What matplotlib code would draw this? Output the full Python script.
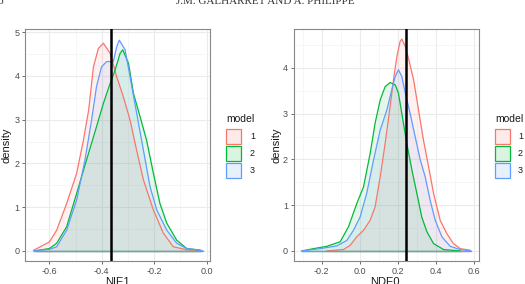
import matplotlib
matplotlib.use('Agg')
import matplotlib.pyplot as plt
from matplotlib.patches import Rectangle
from matplotlib.ticker import MultipleLocator

plt.rcParams['font.family'] = ['Liberation Sans', 'DejaVu Sans']
plt.rcParams['axes.unicode_minus'] = False

MODELS = ["1", "2", "3"]
COLORS = ["#F8766D", "#00BA38", "#619CFF"]

# NIE1 panel, density
nie_x1 = [-0.66, -0.60, -0.572, -0.534, -0.496, -0.47, -0.45, -0.432, -0.413, -0.394, -0.368,
          -0.343, -0.318, -0.292, -0.267, -0.241, -0.203, -0.165, -0.127, -0.076, -0.02]
nie_y1 = [0.01, 0.2, 0.47, 1.08, 1.77, 2.53, 3.22, 4.2, 4.63, 4.75, 4.52,
          3.98, 3.53, 2.99, 2.3, 1.62, 0.93, 0.4, 0.09, 0.02, 0.0]
nie_x2 = [-0.65, -0.60, -0.572, -0.534, -0.496, -0.458, -0.420, -0.394, -0.368, -0.349, -0.330,
          -0.320, -0.298, -0.279, -0.254, -0.229, -0.203, -0.178, -0.152, -0.114, -0.076, -0.025]
nie_y2 = [0.0, 0.05, 0.17, 0.55, 1.31, 2.08, 2.84, 3.37, 3.83, 4.14, 4.52,
          4.6, 4.29, 3.6, 3.07, 2.53, 1.77, 1.08, 0.63, 0.24, 0.05, 0.015]
nie_x3 = [-0.66, -0.60, -0.572, -0.534, -0.496, -0.464, -0.439, -0.420, -0.401, -0.381, -0.356,
          -0.343, -0.333, -0.311, -0.292, -0.267, -0.241, -0.216, -0.190, -0.152, -0.114, -0.076, -0.015]
nie_y3 = [0.0, 0.03, 0.09, 0.47, 1.16, 2.08, 2.99, 3.76, 4.21, 4.33, 4.33,
          4.67, 4.82, 4.6, 3.98, 3.15, 2.3, 1.47, 0.93, 0.47, 0.17, 0.05, 0.0]
nie_ref = -0.365

# NDE0 panel
nde_x1 = [-0.174, -0.086, -0.051, -0.015, 0.020, 0.055, 0.081, 0.108, 0.134, 0.160, 0.178, 0.196, 0.213,
          0.222, 0.240, 0.257, 0.284, 0.310, 0.336, 0.363, 0.389, 0.424, 0.459, 0.494, 0.530, 0.582]
nde_y1 = [0.0, 0.03, 0.12, 0.31, 0.45, 0.67, 0.96, 1.62, 2.35, 3.15, 3.74, 4.25, 4.58,
          4.63, 4.47, 4.21, 3.74, 3.08, 2.42, 1.84, 1.26, 0.67, 0.38, 0.16, 0.05, 0.015]
nde_x2 = [-0.305, -0.244, -0.174, -0.103, -0.059, -0.015, 0.020, 0.055, 0.081, 0.108, 0.134, 0.160,
          0.187, 0.204, 0.222, 0.248, 0.275, 0.301, 0.327, 0.354, 0.389, 0.442, 0.530]
nde_y2 = [0.0, 0.05, 0.1, 0.2, 0.53, 1.04, 1.4, 2.13, 2.79, 3.3, 3.59, 3.68,
          3.63, 3.45, 3.0, 2.35, 1.77, 1.26, 0.74, 0.42, 0.16, 0.03, 0.0]
nde_x3 = [-0.305, -0.209, -0.121, -0.068, -0.033, 0.002, 0.037, 0.073, 0.108, 0.143, 0.169, 0.187, 0.204,
          0.222, 0.240, 0.266, 0.292, 0.319, 0.345, 0.371, 0.398, 0.433, 0.477, 0.530, 0.586]
nde_y3 = [0.0, 0.05, 0.11, 0.23, 0.45, 0.74, 1.26, 1.99, 2.64, 3.08, 3.52, 3.81, 3.96,
          3.81, 3.45, 3.0, 2.5, 1.99, 1.62, 1.11, 0.67, 0.31, 0.1, 0.03, 0.0]
nde_ref = 0.245

W, H = 525, 284


def fx(px):
    return px / W


def fy(py):
    return 1 - py / H


def density_panel(ax, curves, ref, xlim, ylim, xticks, yticks, xlabel):
    ax.set_facecolor("white")
    for (xs, ys), c in zip(curves, COLORS):
        ax.fill_between(xs, 0, ys, color=c, alpha=0.1, linewidth=0, zorder=2)
        ax.plot(xs, ys, color=c, lw=0.9, zorder=3)
        ax.plot([xs[0], xs[-1]], [0, 0], color=c, lw=0.9, zorder=3)
    ax.axvline(ref, color="black", lw=1.8, zorder=4)
    ax.set_xlim(*xlim)
    ax.set_ylim(*ylim)
    ax.set_xticks(xticks)
    ax.set_xticklabels([f"{t:.1f}" for t in xticks])
    ax.set_yticks(yticks)
    ax.set_yticklabels([str(t) for t in yticks])
    ax.xaxis.set_minor_locator(MultipleLocator(0.1))
    ax.yaxis.set_minor_locator(MultipleLocator(0.5))
    ax.grid(True, which="major", color="#EBEBEB", lw=0.8, zorder=0)
    ax.grid(True, which="minor", color="#F3F3F3", lw=0.5, zorder=0)
    ax.set_axisbelow(True)
    ax.tick_params(which="major", length=2.5, width=0.6, color="#555555",
                   labelsize=6.5, labelcolor="#4D4D4D", pad=1.5)
    ax.tick_params(which="minor", length=0)
    for s in ax.spines.values():
        s.set_color("#888888")
        s.set_linewidth(0.8)


def legend_block(x0, x_lab):
    fig.text(fx(x0 + 1), fy(119), "model", fontsize=7.5, va="center", ha="left", color="#1A1A1A")
    for i, (m, c) in enumerate(zip(MODELS, COLORS)):
        top = 128 + i * 17
        fig.patches.append(Rectangle((fx(x0 + 1), fy(top + 16)), 15 / W, 15 / H,
                                     transform=fig.transFigure, facecolor=c, alpha=0.15, lw=0))
        fig.patches.append(Rectangle((fx(x0 + 1), fy(top + 16)), 15 / W, 15 / H,
                                     transform=fig.transFigure, facecolor="none", edgecolor=c, lw=0.9))
        fig.text(fx(x_lab), fy(top + 8.5), m, fontsize=6.5, va="center", ha="left", color="#1A1A1A")


fig = plt.figure(figsize=(W / 100, H / 100), dpi=100)

ax1 = fig.add_axes([fx(25), fy(261), 185 / W, 232 / H])
density_panel(ax1, [(nie_x1, nie_y1), (nie_x2, nie_y2), (nie_x3, nie_y3)], nie_ref,
              (-0.693, 0.013), (-0.236, 5.076), [-0.6, -0.4, -0.2, 0.0], [0, 1, 2, 3, 4, 5], "NIE1")

ax2 = fig.add_axes([fx(293.5), fy(261), 185 / W, 232 / H])
density_panel(ax2, [(nde_x1, nde_y1), (nde_x2, nde_y2), (nde_x3, nde_y3)], nde_ref,
              (-0.349, 0.626), (-0.22, 4.85), [-0.2, 0.0, 0.2, 0.4, 0.6], [0, 1, 2, 3, 4], "NDE0")

# axis titles
fig.text(fx(7), fy(145), "density", rotation=90, fontsize=8, va="center", ha="center", color="#1A1A1A")
fig.text(fx(277), fy(145), "density", rotation=90, fontsize=8, va="center", ha="center", color="#1A1A1A")
fig.text(fx(117), fy(277), "NIE1", fontsize=8, va="top", ha="center", color="#1A1A1A")
fig.text(fx(385), fy(277), "NDE0", fontsize=8, va="top", ha="center", color="#1A1A1A")

legend_block(225, 250)
legend_block(494, 518)

# running page header, cut off at the top
fig.text(fx(265), fy(4), "J.M. GALHARRET AND A. PHILIPPE", fontsize=8,
         family="Liberation Serif", ha="center", va="baseline", color="#333333")
fig.text(fx(-2), fy(4), "6", fontsize=8, family="Liberation Serif",
         ha="left", va="baseline", color="#333333")

fig.savefig("out.png", dpi=100, facecolor="white")
